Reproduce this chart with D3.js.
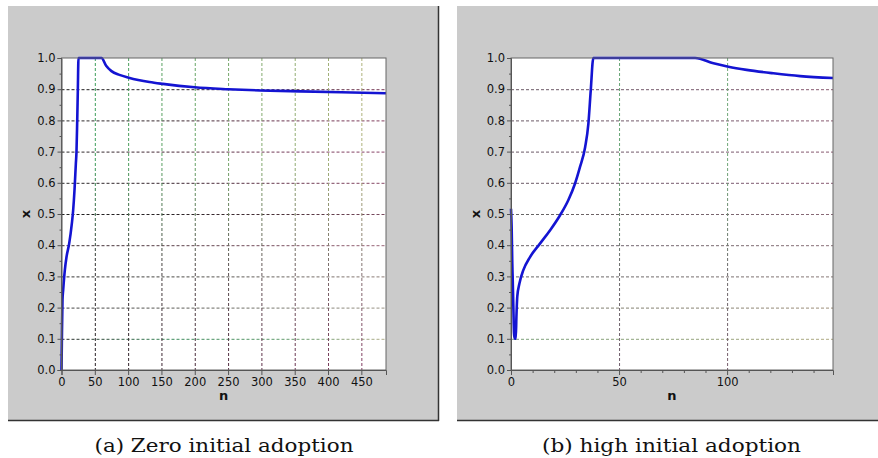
<!DOCTYPE html>
<html>
<head>
<meta charset="utf-8">
<script src="https://cdn.jsdelivr.net/npm/d3@7"></script>
<style>
  body { margin: 0; background: #fff; }
  svg { display: block; }
</style>
</head>
<body>
<svg width="878" height="458"></svg>
<script>
// panel (a): zero initial adoption
var zeroN = [0, 0.5, 1.5, 2.5, 5, 7.5, 11.5, 15.5, 17.5, 19.5, 21.5, 22.5, 23.5, 24.5, 25.5,
             60, 67, 75, 87, 101, 132, 152, 200, 250, 298, 358, 420, 487];
var zeroX = [0, 0.085, 0.225, 0.256, 0.32, 0.362, 0.405, 0.469, 0.512, 0.576, 0.66, 0.70, 0.79, 0.896, 1.0,
             1.0, 0.975, 0.958, 0.946, 0.937, 0.923, 0.917, 0.906, 0.900, 0.896, 0.893, 0.890, 0.887];

// panel (b): high initial adoption
var highN = [0, 0.3, 0.6, 0.8, 1.1, 1.4, 1.7, 2.2, 2.5, 2.9, 3.9, 5.7, 8.8, 13.4, 18.1, 22.7, 26.5,
             29.6, 31.9, 34.3, 35.8, 36.9, 38.1, 85.2, 93.7, 100.6, 109, 121.4, 133.8, 149];
var highX = [0.517, 0.458, 0.341, 0.288, 0.2, 0.117, 0.1, 0.1, 0.17, 0.235, 0.277, 0.32, 0.362, 0.405, 0.448, 0.496, 0.544,
             0.597, 0.65, 0.714, 0.789, 0.896, 1.0, 1.0, 0.983, 0.972, 0.962, 0.951, 0.942, 0.936];

var yTicks = [0, 0.1, 0.2, 0.3, 0.4, 0.5, 0.6, 0.7, 0.8, 0.9, 1.0];
var yMinor = [0.05, 0.15, 0.25, 0.35, 0.45, 0.55, 0.65, 0.75, 0.85, 0.95];
var zeroTicks = [0, 50, 100, 150, 200, 250, 300, 350, 400, 450];
var highTicks = [0, 50, 100];
var highMinor = [10, 20, 30, 40, 60, 70, 80, 90, 110, 120, 130, 140];
var captions = ["(a) Zero initial adoption", "(b) high initial adoption"];

var svg = d3.select("svg");
var defs = svg.append("defs");
var gradId = 0;

function gradient(x1, y1, x2, y2, stops) {
  var id = "g" + (gradId++);
  var g = defs.append("linearGradient").attr("id", id)
    .attr("gradientUnits", "userSpaceOnUse")
    .attr("x1", x1).attr("y1", y1).attr("x2", x2).attr("y2", y2);
  stops.forEach(function(s, i) {
    g.append("stop").attr("offset", i / (stops.length - 1)).attr("stop-color", s);
  });
  return "url(#" + id + ")";
}

function drawPanel(p) {
  // grey frame with dark edge on right/bottom
  svg.append("rect").attr("x", p.bx).attr("y", 6).attr("width", p.bw).attr("height", 414)
    .attr("fill", "#cbcbcb");
  if (p.rightEdge)
    svg.append("line").attr("x1", p.bx + p.bw + 0.5).attr("x2", p.bx + p.bw + 0.5)
      .attr("y1", 6).attr("y2", 421).attr("stroke", "#333").attr("stroke-width", 1.5);
  svg.append("line").attr("x1", p.bx).attr("x2", p.bx + p.bw + 1)
    .attr("y1", 420.5).attr("y2", 420.5).attr("stroke", "#333").attr("stroke-width", 1.5);

  var x = d3.scaleLinear().domain(p.xDomain).range(p.xRange);
  var y = d3.scaleLinear().domain([0, 1]).range([370, 58]);
  var x0 = p.xRange[0], x1 = p.xRange[1];

  svg.append("rect").attr("x", x0).attr("y", 58).attr("width", x1 - x0).attr("height", 312)
    .attr("fill", "#fff");

  // horizontal grid
  var hg = svg.append("g");
  yTicks.slice(1, 10).forEach(function(v, i) {
    hg.append("line").attr("x1", x0).attr("x2", x1).attr("y1", y(v) + 0.5).attr("y2", y(v) + 0.5)
      .attr("stroke", gradient(x0, 0, x1, 0, p.hColors[i]))
      .attr("stroke-dasharray", "3,2").attr("stroke-width", 1);
  });
  // vertical grid
  p.xTicks.slice(1).forEach(function(v) {
    var t = (x(v) - x0) / (x1 - x0);
    var top = d3.interpolateRgb(p.vTop[0], p.vTop[1])(t);
    var bot = d3.interpolateRgb(p.vBot[0], p.vBot[1])(t);
    hg.append("line").attr("x1", x(v) + 0.5).attr("x2", x(v) + 0.5).attr("y1", 58).attr("y2", 370)
      .attr("stroke", gradient(0, 58, 0, 370, [top, top, p.vMid(t), bot]))
      .attr("stroke-dasharray", "3,2").attr("stroke-width", 1);
  });

  // curve
  var line = d3.line().x(function(d) { return x(d[0]); }).y(function(d) { return y(d[1]); })
    .curve(d3.curveMonotoneX);
  svg.append("path").datum(d3.zip(p.n, p.v)).attr("d", line)
    .attr("fill", "none").attr("stroke", "#1414d2").attr("stroke-width", 2.6)
    .attr("stroke-linejoin", "round");

  // plot border
  svg.append("rect").attr("x", x0).attr("y", 58).attr("width", x1 - x0).attr("height", 312)
    .attr("fill", "none").attr("stroke", "#666").attr("stroke-width", 1);

  // axes
  svg.append("g").attr("transform", "translate(" + x0 + ",0)")
    .call(d3.axisLeft(y).tickValues(yTicks).tickFormat(d3.format(".1f")).tickSize(4).tickPadding(2));
  svg.append("g").attr("transform", "translate(" + x0 + ",0)")
    .call(d3.axisLeft(y).tickValues(yMinor).tickFormat("").tickSize(2))
    .select(".domain").remove();
  svg.append("g").attr("transform", "translate(0,370)")
    .call(d3.axisBottom(x).tickValues(p.xTicks).tickFormat(d3.format("d")).tickSize(5).tickPadding(3));
  if (p.minorX)
    svg.append("g").attr("transform", "translate(0,370)")
      .call(d3.axisBottom(x).tickValues(p.minorX).tickFormat("").tickSize(3))
      .select(".domain").remove();
  svg.selectAll(".tick line").attr("stroke", "#555");
  svg.selectAll(".domain").attr("stroke", "#555");
  svg.selectAll(".tick text").attr("font-family", "DejaVu Sans").attr("font-size", 11.5)
    .attr("fill", "#111");

  // axis titles
  svg.append("text").attr("transform", "translate(" + (x0 - 36) + ",214) rotate(-90)")
    .attr("text-anchor", "middle").attr("dominant-baseline", "central")
    .attr("font-family", "DejaVu Sans").attr("font-weight", "bold").attr("font-size", 13)
    .attr("fill", "#111").text("x");
  svg.append("text").attr("x", (x0 + x1) / 2).attr("y", 400)
    .attr("text-anchor", "middle")
    .attr("font-family", "DejaVu Sans").attr("font-weight", "bold").attr("font-size", 13)
    .attr("fill", "#111").text("n");

  // caption
  svg.append("text").attr("x", p.capX).attr("y", 452).attr("text-anchor", "middle")
    .attr("font-family", "'DejaVu Serif'").attr("font-size", 18)
    .attr("textLength", 259).attr("lengthAdjust", "spacingAndGlyphs")
    .attr("fill", "#111").text(p.caption);
}

drawPanel({
  bx: 8, bw: 430, rightEdge: true,
  xDomain: [0, 487], xRange: [61.5, 386],
  xTicks: zeroTicks, minorX: null,
  n: zeroN, v: zeroX,
  hColors: [["#2a2a2a", "#3a8a5a", "#5c9a6a", "#b0ad8a"], ["#444", "#5a5a55", "#7a7a70", "#9a9486"], ["#333", "#4a4a45", "#6a6560", "#8e7e78"],
            ["#3a2a30", "#5a4048", "#7a5060", "#9a6578"], ["#1e1e1e", "#2a2226", "#4a3038", "#7a4a60"], ["#2a2a2a", "#3a2630", "#6a3a50", "#8a4a68"],
            ["#2a2a2a", "#4a2a38", "#743a58", "#8a4468"], ["#2a2a2a", "#3a2a30", "#6a3650", "#844060"], ["#1e1e1e", "#2a2228", "#4a2a3a", "#7a3a58"]],
  vTop: ["#2f9a55", "#b8b47e"],
  vBot: ["#1a1a1a", "#8a3c66"],
  vMid: function(t) { return d3.interpolateRgb("#2a2a2a", "#8a7a78")(t); },
  capX: 224, caption: captions[0]
});

drawPanel({
  bx: 457, bw: 421, rightEdge: false,
  xDomain: [0, 149], xRange: [511, 833],
  xTicks: highTicks, minorX: highMinor,
  n: highN, v: highX,
  hColors: [["#7aa07a", "#8aa27a", "#9aa47e", "#b0aa84"], ["#7a7a70", "#828070", "#8a8474", "#a0907a"], ["#666", "#6e6a6a", "#7a7070", "#8a7a78"],
            ["#6a6266", "#726670", "#7a6a70", "#8a7078"], ["#666", "#6e6266", "#7a6670", "#8a6a78"], ["#6a5a66", "#725a6a", "#7a5a70", "#8a5a72"],
            ["#6a5a66", "#725a6a", "#7a5a6e", "#8a5a70"], ["#6a5a66", "#725a6a", "#7a5a6e", "#8a5a70"], ["#6a5a66", "#725a6a", "#7a5a6e", "#8a5a70"]],
  vTop: ["#5aa070", "#7aaa7a"],
  vBot: ["#6a5a6a", "#7a5a6a"],
  vMid: function(t) { return "#6a6a6a"; },
  capX: 671.5, caption: captions[1]
});
</script>
</body>
</html>
